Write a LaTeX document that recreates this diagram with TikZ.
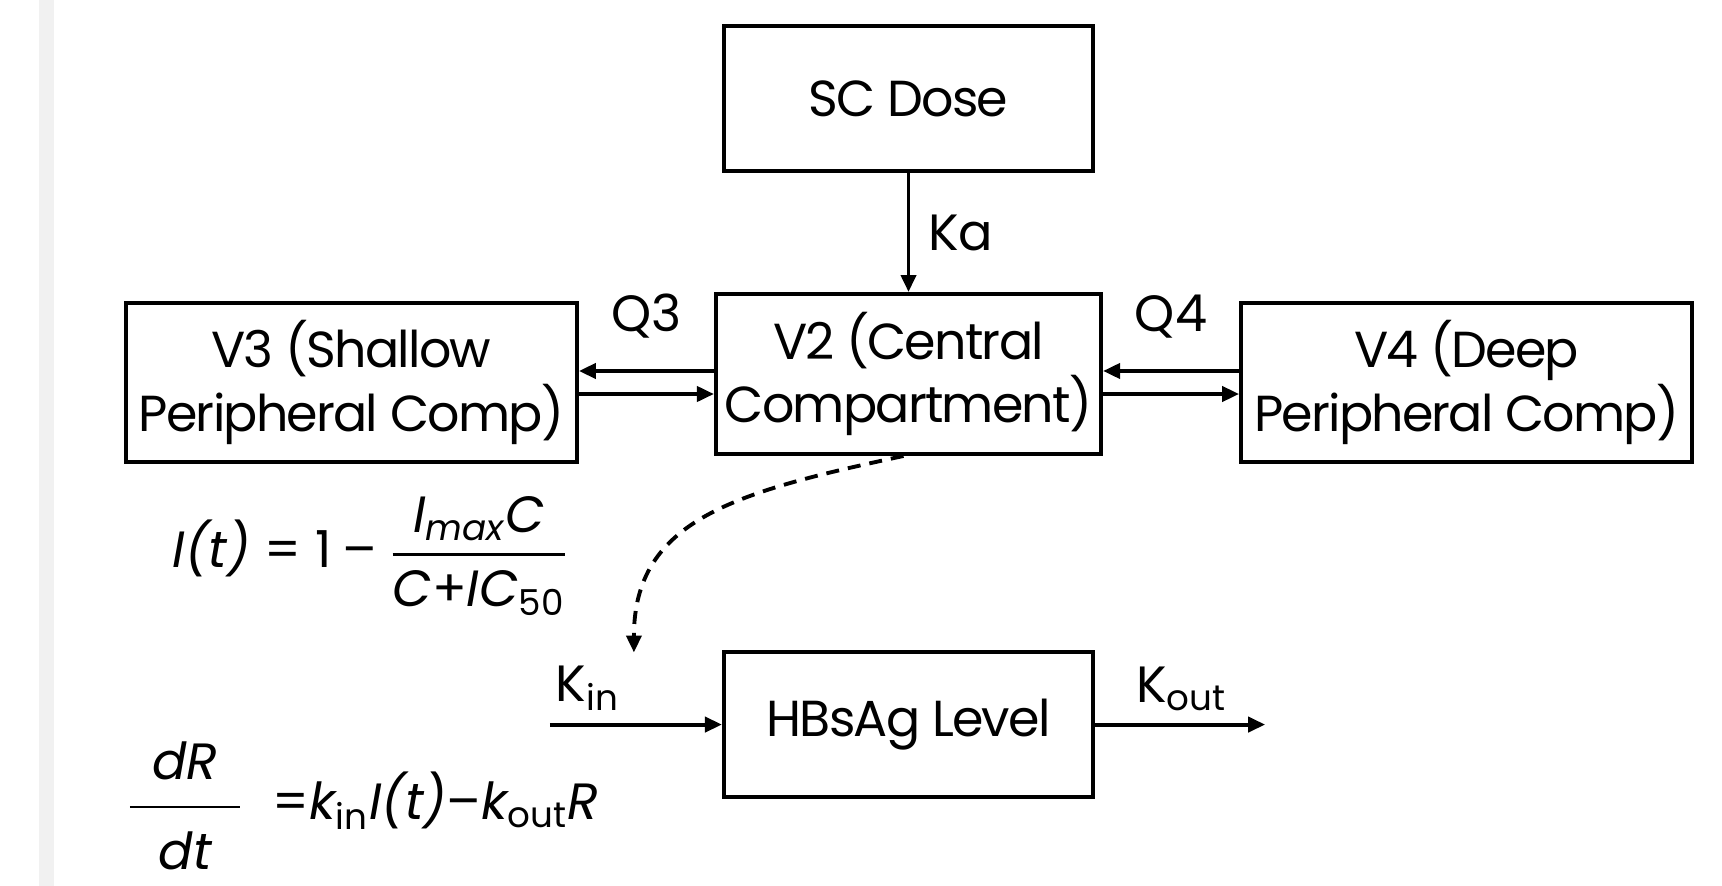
\documentclass[tikz,border=0pt]{standalone}
\usepackage{fontspec}
\setmainfont{Poppins}
\newfontfamily\boxfont{Poppins}[LetterSpace=-3.5]
\usepackage{amsmath}
\usetikzlibrary{arrows.meta,positioning}
\definecolor{stripgray}{HTML}{F1F1F1}
\tikzset{
  comp/.style   ={rectangle,draw,line width=1.1pt,minimum width=3.85cm,
                  minimum height=1.6cm,align=center,inner sep=0pt,
                  font=\boxfont\fontsize{14.4}{18}\selectfont},
  periph/.style ={comp,minimum width=4.51cm,minimum height=1.59cm},
  dosebox/.style={comp,minimum width=3.69cm,minimum height=1.45cm},
  lbl/.style    ={font=\fontsize{14.5}{16}\selectfont},
  eqn/.style    ={font=\fontsize{14.5}{16}\selectfont,inner sep=0pt},
  arr/.style    ={-{Triangle[length=0.17cm,width=0.15cm]},line width=1.1pt},
  darr/.style   ={arr,dash pattern=on 0.13cm off 0.09cm}
}

\begin{document}
\begin{tikzpicture}[x=0.01cm,y=-0.01cm]
  \useasboundingbox (0,0) rectangle (1722,886);
  \fill[stripgray] (39,0) rectangle (54,886);

  % Compartments
  \node (v2)  [comp] at (908.5,374)                    {V2 (Central\\Compartment)};
  \node (sc)  [dosebox, above=1.19cm of v2]             {SC Dose};
  \node (v3)  [periph, left=1.35cm of v2, yshift=-0.085cm]  {V3 (Shallow\\Peripheral Comp)};
  \node (v4)  [periph, right=1.36cm of v2, yshift=-0.085cm] {V4 (Deep\\Peripheral Comp)};
  \node (hbs) [dosebox, below=1.94cm of v2]             {HBsAg Level};

  % Equations
  \node (inhibeq) [eqn, anchor=west] at (172,556)
    {$\textit{I(t)}\mathrel{\text{=}}\text{1}\mathbin{\text{–}}
      \genfrac{}{}{0.8pt}{0}{\textit{I}_{\textit{max}}\textit{C}\rule[-2pt]{0pt}{0pt}}{\rule{0pt}{12pt}\textit{C}\text{+}\textit{IC}_{\text{50}}}$};
  \node (turnover) [eqn, anchor=west] at (125,806)
    {$\genfrac{}{}{0.8pt}{0}{\;\,\textit{dR}\;\,\rule[-5pt]{0pt}{0pt}}{\rule{0pt}{15pt}\;\,\textit{dt}\;\,}\;\;\text{=}\textit{k}_{\text{in}}\textit{I(t)}\text{–}\textit{k}_{\text{out}}\textit{R}$};

  % Free ends
  \coordinate (q3up) at ([yshift=0.115cm]v3.east);
  \coordinate (q3dn) at ([yshift=-0.115cm]v3.east);
  \coordinate (q4up) at ([yshift=0.115cm]v4.west);
  \coordinate (q4dn) at ([yshift=-0.115cm]v4.west);
  \coordinate (kinstart) at ([xshift=-1.72cm]hbs.west);
  \coordinate (koutend)  at ([xshift=1.70cm]hbs.east);
  \coordinate (inhib)    at ([xshift=0.84cm,yshift=0.72cm]kinstart);

  % Arrows
  \draw [arr] (sc) -- node[lbl, right=0.06cm] {Ka} (v2);
  \draw [arr] (q3up -| v2.west) -- node[lbl, above=0.19cm] {Q3} (q3up);
  \draw [arr] (q3dn) -- (q3dn -| v2.west);
  \draw [arr] (q4up) -- node[lbl, above=0.19cm] {Q4} (q4up -| v2.east);
  \draw [arr] (q4dn -| v2.east) -- (q4dn);
  \draw [darr] ([xshift=-0.05cm]v2.south) .. controls +(-168,36) and +(0,-133) .. (inhib);
  \draw [arr] (kinstart) -- node[lbl, pos=0.22, above] {K$_{\text{in}}$} (hbs);
  \draw [arr] (hbs) -- node[lbl, pos=0.51, above] {K$_{\text{out}}$} (koutend);
\end{tikzpicture}
\end{document}
